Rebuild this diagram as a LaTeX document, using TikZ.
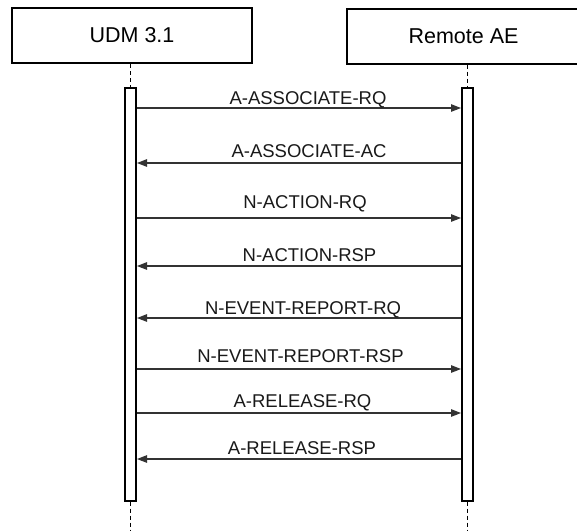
\documentclass[tikz,border=0pt]{standalone}
\usepackage{fontspec}
\setmainfont{Liberation Sans}
\usetikzlibrary{arrows.meta}
\begin{document}
\begin{tikzpicture}[x=1pt,y=-1pt,
  actor/.style={draw,line width=2pt,minimum height=55pt,inner sep=0pt,font=\fontsize{21.5}{24}\selectfont},
  actbar/.style={draw,line width=2pt,fill=white,minimum width=11pt,minimum height=413pt,inner sep=0pt,anchor=north},
  life/.style={dash pattern=on 4pt off 3pt,line width=0.9pt},
  msg/.style={line width=1.1pt,black!80,-{Triangle[length=10pt,width=7.5pt]}},
  lbl/.style={font=\fontsize{18.5}{20}\selectfont,anchor=base,text=black!90,inner sep=0pt}]
\useasboundingbox (0,0) rectangle (577,531);
\node[actor,minimum width=240pt] (udm) at (132,35.5) {UDM 3.1};
\node[actor,minimum width=233pt] (rae) at (463.5,36) {Remote AE};
\node[actbar] (lbar) at (130.5,86.5) {};
\node[actbar] (rbar) at (467.5,86.5) {};
\coordinate (lend) at (130.5,531);
\coordinate (rend) at (467.5,531);
\draw[life] (lbar.north |- udm.south) -- (lbar.north);
\draw[life] (rbar.north |- rae.south) -- (rbar.north);
\draw[life] (lbar.south) -- (lend);
\draw[life] (rbar.south) -- (rend);
% messages
\coordinate (m1) at (0,108);
\coordinate (m2) at (0,163);
\coordinate (m3) at (0,218);
\coordinate (m4) at (0,266);
\coordinate (m5) at (0,318);
\coordinate (m6) at (0,369);
\coordinate (m7) at (0,413);
\coordinate (m8) at (0,459);
\draw[msg] (lbar.east |- m1) -- (rbar.west |- m1);
\draw[msg] (rbar.west |- m2) -- (lbar.east |- m2);
\draw[msg] (lbar.east |- m3) -- (rbar.west |- m3);
\draw[msg] (rbar.west |- m4) -- (lbar.east |- m4);
\draw[msg] (rbar.west |- m5) -- (lbar.east |- m5);
\draw[msg] (lbar.east |- m6) -- (rbar.west |- m6);
\draw[msg] (lbar.east |- m7) -- (rbar.west |- m7);
\draw[msg] (rbar.west |- m8) -- (lbar.east |- m8);
\node[lbl] (t1) at (308,104) {A-ASSOCIATE-RQ};
\node[lbl] (t2) at (309,157) {A-ASSOCIATE-AC};
\node[lbl] (t3) at (305,208) {N-ACTION-RQ};
\node[lbl] (t4) at (309.5,261) {N-ACTION-RSP};
\node[lbl] (t5) at (303,314) {N-EVENT-REPORT-RQ};
\node[lbl] (t6) at (300.5,362) {N-EVENT-REPORT-RSP};
\node[lbl] (t7) at (302.5,407) {A-RELEASE-RQ};
\node[lbl] (t8) at (302,454) {A-RELEASE-RSP};
\end{tikzpicture}
\end{document}
